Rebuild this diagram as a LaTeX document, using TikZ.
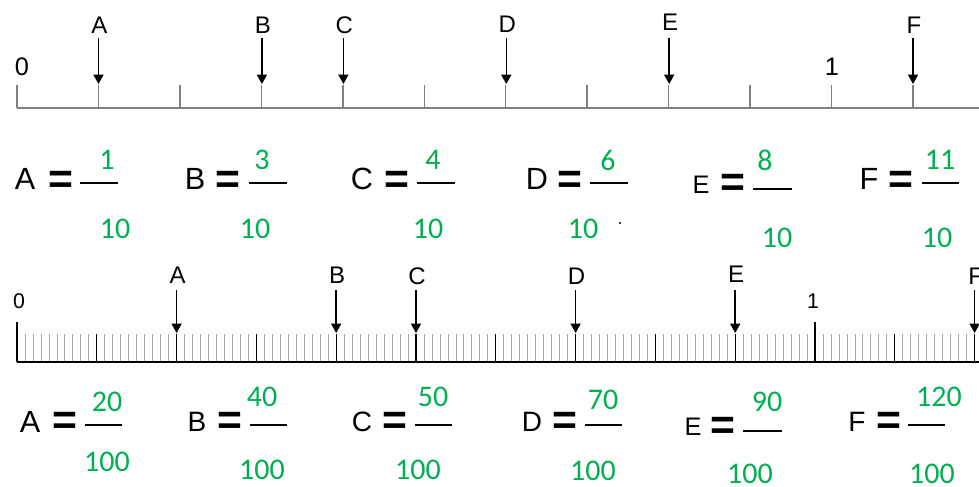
\documentclass[tikz,border=0pt]{standalone}
\usepackage{fontspec}
\setmainfont{Liberation Sans}
\newfontfamily\calib{Carlito}
\usetikzlibrary{arrows.meta}
\definecolor{grn}{HTML}{00B050}
\definecolor{axgray}{HTML}{808080}
\begin{document}
\begin{tikzpicture}[x=0.75pt,y=-0.75pt,
  lbl/.style={font=\fontsize{18}{18}\selectfont, inner sep=0pt},
  nlbl/.style={font=\fontsize{19}{19}\selectfont, inner sep=0pt},
  ltr/.style={font=\fontsize{23}{23}\selectfont, inner sep=0pt},
  ltrm/.style={font=\fontsize{21}{21}\selectfont, inner sep=0pt},
  ltrs/.style={font=\fontsize{19}{19}\selectfont, inner sep=0pt},
  eqs/.style={font=\fontsize{32}{32}\selectfont\bfseries, inner sep=0pt},
  num/.style={text=grn, font=\calib\fontsize{22.5}{22.5}\selectfont, inner sep=0pt},
  fbar/.style={line width=1.3pt},
  arr/.style={-{Triangle[width=7.5pt,length=7pt]}, line width=1.1pt},
  mtick/.style={line width=0.6pt, black!35},
  ttick/.style={line width=0.8pt, black}]
\useasboundingbox (0,0) rectangle (979,486);

% ---------- top number line ----------
\draw[axgray, line width=1.2pt] (17,108) -- (979,108);
\foreach \i in {0,...,11}
  \draw[axgray, line width=1.1pt] ({17+81.45*\i},85) -- ({17+81.45*\i},108);
\node[nlbl] (z1) at (22,67) {0};
\node[nlbl] (o1) at (832,67) {1};
\foreach \n/\x/\ly in {A/98.5/25, B/261.9/25, C/343.4/25, D/506.3/24, E/669.2/22, F/913/25}{
  \coordinate (tt\n) at (\x,84);
  \node[lbl] (lt\n) at (\x+1,\ly) {\n};
  \draw[arr] (\x,38) -- (tt\n);
}

% ---------- top fractions ----------
\foreach \n/\lx/\ly/\ex/\ey/\ba/\bb/\by/\nx/\nv/\dx/\dy/\st in {
  A/25/179/61/182/80/118/183/107/1/115/229/ltr,
  B/195/179/228/182/249/287/183/262/3/255/229/ltr,
  C/362/179/397/182/417/455/183/433/4/428/229/ltr,
  D/537/179/570/182/590/628/183/608/6/583/229/ltr,
  E/701/185/733/185/753/792/189/765/8/777/238/ltrs,
  F/869/179/901/182/922/959/183/940/11/937/238/ltr}{
  \node[\st] (fl\n) at (\lx,\ly) {\n};
  \node[eqs] (fe\n) at (\ex,\ey) {=};
  \draw[fbar] (\ba,\by) -- (\bb,\by);
  \node[num] (fn\n) at (\nx,160) {\nv};
  \node[num] (fd\n) at (\dx,\dy) {10};
}
\fill (620,223) circle (1.1);

% ---------- bottom number line ----------
\foreach \i in {0,...,120}
  \draw[mtick] ({17+7.98*\i},334) -- ({17+7.98*\i},362);
\foreach \i in {0,...,12}
  \draw[ttick] ({17+79.8*\i},334) -- ({17+79.8*\i},362);
\draw[line width=1.1pt] (17,322) -- (17,362);
\draw[line width=1.1pt] (815,322) -- (815,362);
\draw[line width=1pt] (17,362) -- (979,362);
\node[font=\fontsize{16}{16}\selectfont, inner sep=0pt] (z2) at (19,301) {0};
\node[font=\fontsize{16}{16}\selectfont, inner sep=0pt] (o2) at (813,301) {1};
\foreach \n/\x/\ly in {A/176.6/275, B/336.2/275, C/416/276, D/575.6/276, E/735.2/274, F/974.6/276}{
  \coordinate (bt\n) at (\x,333);
  \node[lbl] (lb\n) at (\x+1,\ly) {\n};
  \draw[arr] (\x,290) -- (bt\n);
}

% ---------- bottom fractions ----------
\foreach \n/\lx/\ly/\ex/\ey/\ba/\bb/\by/\nx/\ny/\nv/\dx/\dy/\st in {
  A/30/422/65/423/85/122/425/107/402/20/107/462/ltr,
  B/197/422/230/423/250/287/425/262/397/40/262/470/ltrm,
  C/362/422/395/423/415/452/425/433/397/50/418/470/ltrm,
  D/532/422/565/423/585/622/425/603/400/70/593/471/ltrm,
  E/693/427/723/428/743/782/431/767/402/90/750/474/ltrs,
  F/857/422/889/423/908/945/425/939/397/120/932/474/ltrm}{
  \node[\st] (gl\n) at (\lx,\ly) {\n};
  \node[eqs] (ge\n) at (\ex,\ey) {=};
  \draw[fbar] (\ba,\by) -- (\bb,\by);
  \node[num] (gn\n) at (\nx,\ny) {\nv};
  \node[num] (gd\n) at (\dx,\dy) {100};
}
\end{tikzpicture}
\end{document}
